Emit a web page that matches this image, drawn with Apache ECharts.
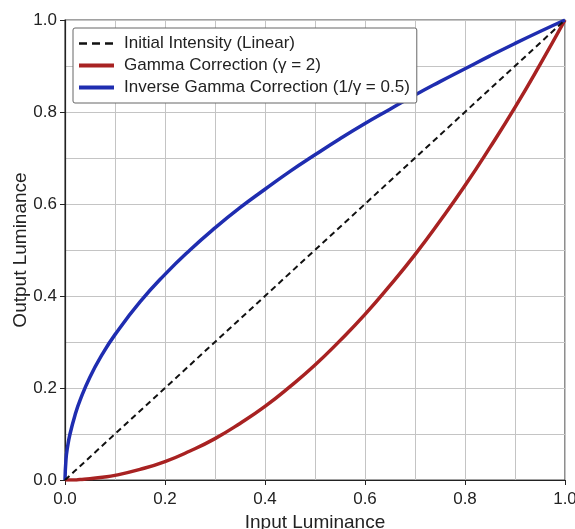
<!DOCTYPE html>
<html>
<head>
    <meta charset="utf-8">
    <script src="https://cdn.jsdelivr.net/npm/echarts@6/dist/echarts.min.js"></script>
</head>
<body style="margin:0">
<div id="main" style="width: 575px;height:529px;"></div>
<script type="text/javascript">
    // input values
    var inputX = [0, 0.002, 0.005, 0.01, 0.02, 0.03, 0.05, 0.075, 0.1, 0.15, 0.2, 0.25, 0.3, 0.35, 0.4, 0.45, 0.5,
        0.55, 0.6, 0.65, 0.7, 0.75, 0.8, 0.85, 0.9, 0.95, 1];
    var linearY = [0, 0.002, 0.005, 0.01, 0.02, 0.03, 0.05, 0.075, 0.1, 0.15, 0.2, 0.25, 0.3, 0.35, 0.4, 0.45, 0.5,
        0.55, 0.6, 0.65, 0.7, 0.75, 0.8, 0.85, 0.9, 0.95, 1];
    var gammaY = [0, 0, 0, 0, 0, 0.001, 0.003, 0.006, 0.01, 0.023, 0.04, 0.063, 0.09, 0.123, 0.16, 0.203, 0.25,
        0.303, 0.36, 0.423, 0.49, 0.563, 0.64, 0.723, 0.81, 0.903, 1];
    var inverseY = [0, 0.045, 0.071, 0.1, 0.141, 0.173, 0.224, 0.274, 0.316, 0.387, 0.447, 0.5, 0.548, 0.592, 0.632, 0.671, 0.707,
        0.742, 0.775, 0.806, 0.837, 0.866, 0.894, 0.922, 0.949, 0.975, 1];
    var seriesNames = ['Initial Intensity (Linear)', 'Gamma Correction (\u03b3 = 2)', 'Inverse Gamma Correction (1/\u03b3 = 0.5)'];

    function pairs(ys) {
        var out = [];
        for (var i = 0; i < inputX.length; i++) out.push([inputX[i], ys[i]]);
        return out;
    }

    var myChart = echarts.init(document.getElementById('main'));
    var font = 'Liberation Sans, Arial, sans-serif';

    var axisCommon = {
        type: 'value', min: 0, max: 1, interval: 0.2,
        axisLine: {show: true, lineStyle: {color: '#222', width: 1.2}},
        axisTick: {show: true, length: 5, lineStyle: {color: '#222'}},
        axisLabel: {color: '#222', fontSize: 17, fontFamily: font, formatter: function (v) { return v.toFixed(1); }},
        splitLine: {show: true, lineStyle: {color: '#c4c4c4', width: 1}},
        minorTick: {show: false, splitNumber: 2},
        minorSplitLine: {show: true, lineStyle: {color: '#c4c4c4', width: 1}},
        nameLocation: 'middle',
        nameTextStyle: {color: '#222', fontSize: 19, fontFamily: font}
    };

    var option = {
        animation: false,
        backgroundColor: '#fff',
        grid: {left: 65, right: 10, top: 20, bottom: 49, show: true, borderColor: '#444', borderWidth: 1.2,
            containLabel: false, outerBoundsMode: 'none'},
        legend: {
            orient: 'vertical', left: 73, top: 28,
            itemWidth: 35, itemHeight: 10, itemGap: 5,
            padding: [7, 7, 7, 4],
            backgroundColor: '#fff', borderColor: '#666', borderWidth: 1, borderRadius: 2,
            itemStyle: {color: 'transparent', borderColor: 'transparent', borderWidth: 0, opacity: 0},
            textStyle: {color: '#222', fontSize: 17, fontFamily: font, padding: [0, 0, 0, 5]},
            data: [
                {name: seriesNames[0], lineStyle: {width: 2.5, type: [8, 5]}},
                {name: seriesNames[1], lineStyle: {width: 4}},
                {name: seriesNames[2], lineStyle: {width: 4}}
            ]
        },
        xAxis: Object.assign({}, axisCommon, {name: 'Input Luminance', nameGap: 31,
            axisLabel: Object.assign({}, axisCommon.axisLabel, {margin: 11})}),
        yAxis: Object.assign({}, axisCommon, {name: 'Output Luminance', nameGap: 35, nameMoveOverlap: false}),
        series: [
            {
                name: seriesNames[0], type: 'line', data: pairs(linearY), showSymbol: false, symbol: 'none',
                lineStyle: {color: '#111', width: 2, type: [6, 4]}, itemStyle: {color: '#111'}, z: 3
            },
            {
                name: seriesNames[1], type: 'line', data: pairs(gammaY), showSymbol: false, symbol: 'none', smooth: true,
                lineStyle: {color: '#a82222', width: 3.5}, itemStyle: {color: '#a82222'}, z: 2
            },
            {
                name: seriesNames[2], type: 'line', data: pairs(inverseY), showSymbol: false, symbol: 'none', smooth: true,
                lineStyle: {color: '#1f2db0', width: 3.5}, itemStyle: {color: '#1f2db0'}, z: 2
            }
        ]
    };

    myChart.setOption(option);
</script>
</body>
</html>
